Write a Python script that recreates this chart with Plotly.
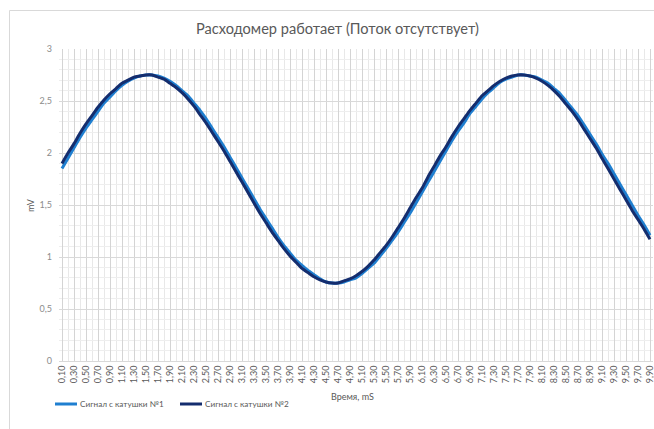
import plotly.graph_objects as go

# Categories: time in ms (0.10 ... 9.90)
time_ms = [round(0.1 * i, 1) for i in range(1, 100)]
tick_labels = [f"{t:.2f}".replace(".", ",") for t in time_ms]

coil1 = [1.85, 1.95, 2.05, 2.15, 2.24, 2.32, 2.40, 2.48, 2.54, 2.60,
         2.65, 2.69, 2.72, 2.74, 2.75, 2.75, 2.74, 2.72, 2.69, 2.65,
         2.60, 2.55, 2.48, 2.41, 2.33, 2.24, 2.15, 2.06, 1.96, 1.86,
         1.76, 1.66, 1.56, 1.46, 1.37, 1.28, 1.19, 1.11, 1.04, 0.97,
         0.92, 0.87, 0.83, 0.79, 0.76, 0.75, 0.75, 0.76, 0.78, 0.80,
         0.84, 0.89, 0.94, 1.01, 1.08, 1.16, 1.24, 1.33, 1.42, 1.52,
         1.62, 1.72, 1.82, 1.92, 2.02, 2.12, 2.21, 2.29, 2.38, 2.45,
         2.52, 2.58, 2.63, 2.68, 2.71, 2.73, 2.75, 2.75, 2.74, 2.73,
         2.70, 2.67, 2.62, 2.57, 2.50, 2.43, 2.36, 2.27, 2.18, 2.09,
         1.99, 1.90, 1.80, 1.70, 1.60, 1.50, 1.40, 1.31, 1.21]

coil2 = [1.90, 2.00, 2.09, 2.19, 2.28, 2.36, 2.44, 2.51, 2.57, 2.62,
         2.67, 2.70, 2.73, 2.74, 2.75, 2.75, 2.73, 2.71, 2.67, 2.63,
         2.58, 2.52, 2.45, 2.37, 2.29, 2.20, 2.11, 2.02, 1.92, 1.82,
         1.72, 1.62, 1.52, 1.42, 1.33, 1.24, 1.16, 1.08, 1.01, 0.95,
         0.89, 0.85, 0.81, 0.78, 0.76, 0.75, 0.75, 0.77, 0.79, 0.82,
         0.86, 0.91, 0.97, 1.04, 1.11, 1.19, 1.28, 1.37, 1.47, 1.57,
         1.66, 1.77, 1.87, 1.97, 2.06, 2.16, 2.25, 2.33, 2.41, 2.48,
         2.55, 2.60, 2.65, 2.69, 2.72, 2.74, 2.75, 2.75, 2.74, 2.72,
         2.69, 2.65, 2.60, 2.54, 2.47, 2.40, 2.32, 2.23, 2.14, 2.05,
         1.95, 1.85, 1.75, 1.65, 1.55, 1.45, 1.36, 1.27, 1.17]

series_names = ["Сигнал с катушки №1", "Сигнал с катушки №2"]
series_colors = ["#1f7fd0", "#142d6e"]

W, H = 654, 429
L, R, T, B = 59, 1, 49, 68
pw, ph = W - L - R, H - T - B


def px(x):
    return (x - L) / pw


def py(y):
    return (H - B - y) / ph


fig = go.Figure()
for vals, name, col in zip([coil1, coil2], series_names, series_colors):
    fig.add_trace(go.Scatter(x=time_ms, y=vals, mode="lines", name=name, showlegend=False,
                             line=dict(color=col, width=3, shape="spline", smoothing=0.6)))

font_family = "Lato, 'Open Sans', sans-serif"

annotations = [
    dict(text="Расходомер работает (Поток отсутствует)", x=px(337), y=py(28),
         xref="paper", yref="paper", showarrow=False,
         font=dict(size=14.6, color="#595959"), xanchor="center", yanchor="middle"),
    dict(text="Время, mS", x=px(352), y=py(396), xref="paper", yref="paper",
         showarrow=False, font=dict(size=9, color="#595959"),
         xanchor="center", yanchor="middle"),
    dict(text="mV", x=px(30), y=py(205), xref="paper", yref="paper",
         showarrow=False, textangle=-90, font=dict(size=9, color="#595959"),
         xanchor="center", yanchor="middle"),
]
shapes = [
    dict(type="rect", xref="paper", yref="paper",
         x0=px(9.5), x1=px(W + 5), y0=py(H + 5), y1=py(10.5),
         line=dict(color="#d9d9d9", width=1), fillcolor="rgba(0,0,0,0)", layer="below"),
]

# Custom legend (short line sample + label), Excel style
legend_x = [(55, 77), (180, 202)]
legend_y = 404
for (x0, x1), name, col in zip(legend_x, series_names, series_colors):
    shapes.append(dict(type="line", xref="paper", yref="paper",
                       x0=px(x0), x1=px(x1), y0=py(legend_y), y1=py(legend_y),
                       line=dict(color=col, width=3)))
    annotations.append(dict(text=name, x=px(x1 + 1), y=py(legend_y), xref="paper", yref="paper",
                            showarrow=False, font=dict(size=8.2, color="#595959"),
                            xanchor="left", yanchor="middle"))

fig.update_layout(
    width=W, height=H,
    margin=dict(l=L, r=R, t=T, b=B, autoexpand=False),
    paper_bgcolor="white", plot_bgcolor="white",
    separators=", ",
    font=dict(family=font_family, color="#595959"),
    showlegend=False,
    xaxis=dict(
        range=[0.05, 9.95],
        tickmode="array", tickvals=time_ms[::2], ticktext=tick_labels[::2],
        tickangle=-90, tickfont=dict(size=9, color="#595959"),
        ticklabeloverflow="allow",
        showgrid=True, gridcolor="#d4d4d4", gridwidth=1,
        minor=dict(dtick=0.1, tick0=0.1, showgrid=True, gridcolor="#e8e8e8", gridwidth=1),
        showline=True, linecolor="#d9d9d9", linewidth=1,
        ticks="", zeroline=False, fixedrange=True, automargin=False,
    ),
    yaxis=dict(
        range=[0, 3], dtick=0.5, tick0=0,
        tickfont=dict(size=9, color="#8c8c8c"),
        showgrid=True, gridcolor="#d9d9d9", gridwidth=1,
        minor=dict(dtick=0.1, showgrid=True, gridcolor="#eeeeee", gridwidth=1),
        showline=False, ticks="", zeroline=False, fixedrange=True,
        ticklabelstandoff=6, automargin=False,
    ),
    annotations=annotations,
    shapes=shapes,
)

fig.write_html("out.html", config={"displayModeBar": False},
               post_script="document.body.style.margin='0';document.body.style.padding='0';")
